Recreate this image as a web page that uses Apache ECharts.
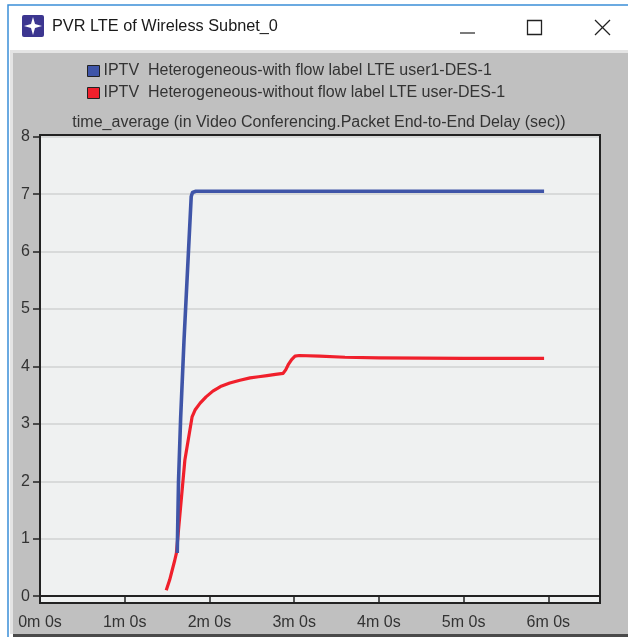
<!DOCTYPE html>
<html><head><meta charset="utf-8">
<style>html,body{margin:0;padding:0;background:#fff}#c{width:628px;height:637px}</style>
<script src="https://cdn.jsdelivr.net/npm/echarts@6/dist/echarts.min.js"></script>
</head><body><div id="c"></div>
<script>
const windowTitle = 'PVR LTE of Wireless Subnet_0';
const chartTitle = 'time_average (in Video Conferencing.Packet End-to-End Delay (sec))';
const seriesNames = ['IPTV  Heterogeneous-with flow label LTE user1-DES-1', 'IPTV  Heterogeneous-without flow label LTE user-DES-1'];
const xTicks = [0, 1, 2, 3, 4, 5, 6];
const yTicks = [0, 1, 2, 3, 4, 5, 6, 7, 8];
const blueX = [1.62, 1.635, 1.66, 1.70, 1.785, 1.80, 1.84, 3, 4, 5, 5.95];
const blueY = [0.75, 2.0, 3.1, 4.46, 6.96, 7.03, 7.05, 7.05, 7.05, 7.05, 7.05];
const redX = [1.49, 1.53, 1.56, 1.59, 1.61, 1.71, 1.795, 1.83, 1.89, 1.96, 2.04, 2.13, 2.24, 2.36, 2.48, 2.58, 2.68, 2.78, 2.87, 2.90, 2.93, 2.97, 3.01, 3.06, 3.3, 3.6, 4, 5, 5.95];
const redY = [0.10, 0.28, 0.45, 0.62, 0.75, 2.37, 3.12, 3.24, 3.36, 3.47, 3.57, 3.65, 3.71, 3.76, 3.80, 3.82, 3.84, 3.86, 3.88, 3.94, 4.03, 4.12, 4.18, 4.19, 4.18, 4.16, 4.15, 4.14, 4.14];
const font = '"Liberation Sans", Arial, sans-serif';
const ink = '#333333';

const chart = echarts.init(document.getElementById('c'), null, {renderer: 'canvas'});
chart.setOption({
  animation: false,
  backgroundColor: '#ffffff',
  title: {
    text: chartTitle, left: 314, textAlign: 'center', top: 110,
    textStyle: {fontFamily: font, fontSize: 16, fontWeight: 'normal', color: ink}
  },
  legend: {
    orient: 'vertical', left: 87, top: 63, itemWidth: 12, itemHeight: 11, itemGap: 6,
    icon: 'rect', padding: 0, selectedMode: false,
    textStyle: {fontFamily: font, fontSize: 16, color: ink, padding: [0, 0, 0, -1]},
    data: seriesNames.map(n => ({name: n, itemStyle: {borderColor: '#222', borderWidth: 1}}))
  },
  grid: {
    left: 40, right: 28, top: 135, bottom: 34, show: true,
    backgroundColor: '#eff1f1', borderColor: '#222', borderWidth: 0
  },
  xAxis: {
    type: 'value', min: 0, max: 6.61,
    axisLine: {show: true, lineStyle: {color: '#222', width: 2}},
    axisTick: {show: true, length: 6, customValues: xTicks, lineStyle: {color: '#222', width: 1.5}},
    axisLabel: {customValues: xTicks, formatter: v => v + 'm 0s', margin: 12, fontFamily: font, fontSize: 16, color: ink},
    splitLine: {show: false}
  },
  yAxis: {
    type: 'value', min: -0.12, max: 8.03,
    axisLine: {show: true, lineStyle: {color: '#222', width: 2}},
    axisTick: {show: true, length: 7, customValues: yTicks, lineStyle: {color: '#222', width: 1.5}},
    axisLabel: {customValues: yTicks, margin: 10, fontFamily: font, fontSize: 16, color: ink},
    splitLine: {show: true, lineStyle: {color: '#d8dada', width: 2}}
  },
  series: [
    {name: seriesNames[1], type: 'line', z: 3, showSymbol: false, silent: true, color: '#f0202c',
     lineStyle: {width: 3.2, color: '#f0202c', join: 'round'}, data: redX.map((x, i) => [x, redY[i]])},
    {name: seriesNames[0], type: 'line', z: 4, showSymbol: false, silent: true, color: '#3f55a8',
     lineStyle: {width: 3.6, color: '#3f55a8', join: 'round'}, data: blueX.map((x, i) => [x, blueY[i]])}
  ],
  graphic: [
    {type: 'rect', z: -10, silent: true, shape: {x: 8, y: 5, width: 630, height: 640}, style: {fill: '#ffffff', stroke: '#3b8ed8', lineWidth: 1.5}},
    {type: 'rect', z: -9, silent: true, shape: {x: 10, y: 50, width: 618, height: 3}, style: {fill: '#e4e4e4'}},
    {type: 'rect', z: -9, silent: true, shape: {x: 13, y: 53, width: 615, height: 581}, style: {fill: '#c0c0c0'}},
    {type: 'rect', z: -9, silent: true, shape: {x: 10, y: 53, width: 3, height: 581}, style: {fill: '#e4e4e4'}},
    {type: 'rect', z: -9, silent: true, shape: {x: 13, y: 634, width: 615, height: 3}, style: {fill: '#4a4a4a'}},
    {type: 'rect', z: 2, silent: true, shape: {x: 40, y: 135, width: 560, height: 468}, style: {fill: 'none', stroke: '#222', lineWidth: 2}},
    {type: 'rect', z: 5, silent: true, shape: {x: 22, y: 15, width: 22, height: 22, r: 2}, style: {fill: '#3c3690'}},
    {type: 'polygon', z: 6, silent: true, shape: {points: [[33, 17], [35, 24], [42, 26], [35, 28], [33, 35], [31, 28], [24, 26], [31, 24]]}, style: {fill: '#ffffff'}},
    {type: 'text', z: 6, silent: true, style: {x: 52, y: 27, text: windowTitle, fill: '#1a1a1a', font: '16.3px ' + font, textVerticalAlign: 'middle'}},
    {type: 'line', z: 6, silent: true, shape: {x1: 460, y1: 33, x2: 475, y2: 33}, style: {stroke: '#222', lineWidth: 1.2}},
    {type: 'rect', z: 6, silent: true, shape: {x: 527.5, y: 20.5, width: 14, height: 14}, style: {fill: 'none', stroke: '#222', lineWidth: 1.3}},
    {type: 'line', z: 6, silent: true, shape: {x1: 595, y1: 20, x2: 610, y2: 35}, style: {stroke: '#222', lineWidth: 1.3}},
    {type: 'line', z: 6, silent: true, shape: {x1: 610, y1: 20, x2: 595, y2: 35}, style: {stroke: '#222', lineWidth: 1.3}}
  ]
});
</script></body></html>
